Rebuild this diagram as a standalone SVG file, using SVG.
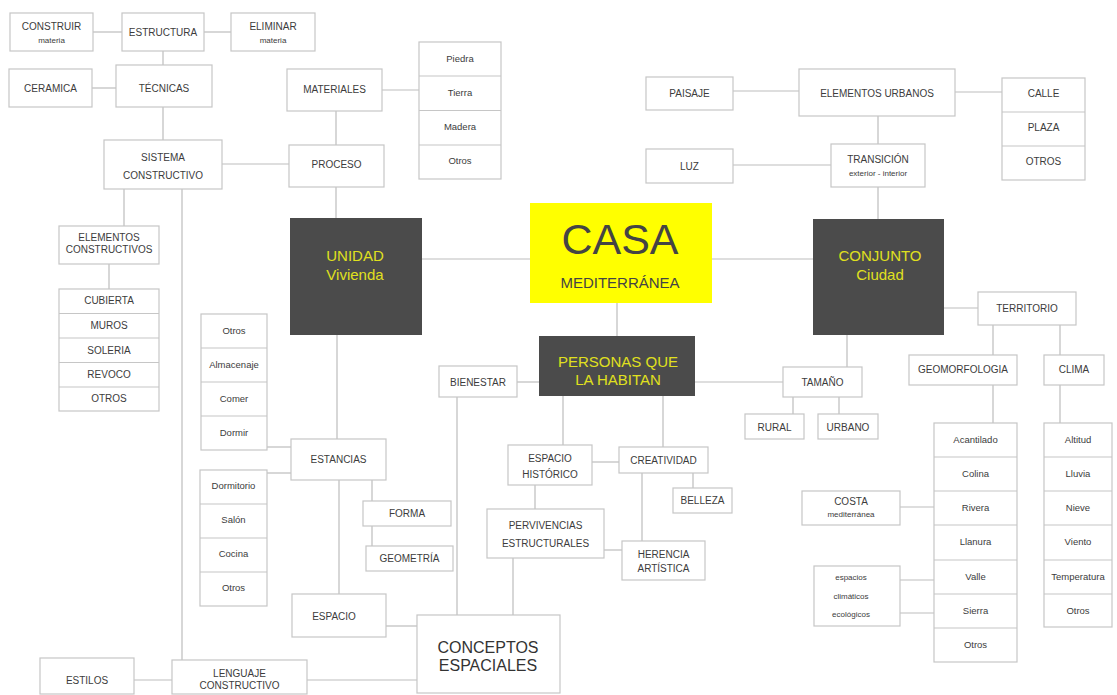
<svg xmlns="http://www.w3.org/2000/svg" width="1117" height="695" viewBox="0 0 1117 695">
  <style>
    .box { fill: #ffffff; stroke: #c6c6c6; stroke-width: 1.2; }
    .sep { stroke: #c6c6c6; stroke-width: 1.2; }
    .dark { fill: #4b4b4b; }
    .casa { fill: #ffff00; }
    .t { font-family: "Liberation Sans", Arial, sans-serif; font-size: 10px; fill: #3c3c3c; text-anchor: middle; dominant-baseline: central; }
    .s { font-size: 8px; }
    .m { font-size: 9.5px; }
    .y { font-size: 15px; fill: #e0e01e; }
    .big { font-size: 16px; fill: #333333; }
    #connectors line { stroke: #bdbdbd; stroke-width: 1.2; }
  </style>

  <rect width="1117" height="695" fill="#ffffff"/>

  <!-- connectors -->
  <g id="connectors">
    <line x1="93" y1="32" x2="122" y2="32"/>
    <line x1="204" y1="32" x2="231" y2="32"/>
    <line x1="163" y1="51" x2="163" y2="65"/>
    <line x1="92" y1="88" x2="116" y2="88"/>
    <line x1="163" y1="107" x2="163" y2="140"/>
    <line x1="222" y1="164" x2="289" y2="164"/>
    <line x1="124" y1="189" x2="124" y2="226"/>
    <line x1="182" y1="189" x2="182" y2="660"/>
    <line x1="109" y1="264" x2="109" y2="289"/>
    <line x1="382" y1="90" x2="419" y2="90"/>
    <line x1="336" y1="111" x2="336" y2="145"/>
    <line x1="336" y1="187" x2="336" y2="218"/>
    <line x1="422" y1="259" x2="530" y2="259"/>
    <line x1="337" y1="335" x2="337" y2="439"/>
    <line x1="267" y1="447" x2="291" y2="447"/>
    <line x1="267" y1="473" x2="291" y2="473"/>
    <line x1="339" y1="480" x2="339" y2="594"/>
    <line x1="372" y1="480" x2="372" y2="501"/>
    <line x1="372" y1="526" x2="372" y2="546"/>
    <line x1="386" y1="626" x2="417" y2="626"/>
    <line x1="134" y1="680" x2="172" y2="680"/>
    <line x1="307" y1="680" x2="417" y2="680"/>
    <line x1="517" y1="382" x2="539" y2="382"/>
    <line x1="457" y1="397" x2="457" y2="615"/>
    <line x1="617" y1="303" x2="617" y2="336"/>
    <line x1="712" y1="259" x2="813" y2="259"/>
    <line x1="563" y1="396" x2="563" y2="445"/>
    <line x1="663" y1="396" x2="663" y2="447"/>
    <line x1="592" y1="462" x2="619" y2="462"/>
    <line x1="535" y1="485" x2="535" y2="509"/>
    <line x1="604" y1="550" x2="622" y2="550"/>
    <line x1="513" y1="558" x2="513" y2="615"/>
    <line x1="642" y1="473" x2="642" y2="541"/>
    <line x1="693" y1="473" x2="693" y2="488"/>
    <line x1="695" y1="382" x2="783" y2="382"/>
    <line x1="847" y1="335" x2="847" y2="367"/>
    <line x1="793" y1="397" x2="793" y2="414"/>
    <line x1="839" y1="397" x2="839" y2="414"/>
    <line x1="733" y1="91" x2="799" y2="91"/>
    <line x1="955" y1="92" x2="1002" y2="92"/>
    <line x1="878" y1="116" x2="878" y2="144"/>
    <line x1="733" y1="165" x2="831" y2="165"/>
    <line x1="878" y1="187" x2="878" y2="219"/>
    <line x1="944" y1="308" x2="978" y2="308"/>
    <line x1="993" y1="325" x2="993" y2="355"/>
    <line x1="1060" y1="325" x2="1060" y2="355"/>
    <line x1="993" y1="385" x2="993" y2="423"/>
    <line x1="1060" y1="385" x2="1060" y2="423"/>
    <line x1="900" y1="507" x2="934" y2="507"/>
    <line x1="900" y1="580" x2="934" y2="580"/>
    <line x1="900" y1="613" x2="934" y2="613"/>
  </g>

  <!-- construction branch -->
  <g id="construir">
    <rect class="box" x="10" y="13" width="83" height="38"/>
    <text class="t" x="51.5" y="26">CONSTRUIR</text>
    <text class="t s" x="51.5" y="40">materia</text>
  </g>
  <g id="estructura">
    <rect class="box" x="122" y="13" width="82" height="38"/>
    <text class="t" x="163" y="32">ESTRUCTURA</text>
  </g>
  <g id="eliminar">
    <rect class="box" x="231" y="13" width="84" height="38"/>
    <text class="t" x="273" y="26">ELIMINAR</text>
    <text class="t s" x="273" y="40">materia</text>
  </g>
  <g id="ceramica">
    <rect class="box" x="9" y="69" width="83" height="38"/>
    <text class="t" x="50.5" y="88">CERAMICA</text>
  </g>
  <g id="tecnicas">
    <rect class="box" x="116" y="65" width="96" height="42"/>
    <text class="t" x="164" y="88">TÉCNICAS</text>
  </g>
  <g id="sistema-constructivo">
    <rect class="box" x="104" y="140" width="118" height="49"/>
    <text class="t" x="163" y="157">SISTEMA</text>
    <text class="t" x="163" y="175">CONSTRUCTIVO</text>
  </g>
  <g id="elementos-constructivos">
    <rect class="box" x="59" y="226" width="100" height="38"/>
    <text class="t" x="109" y="237">ELEMENTOS</text>
    <text class="t" x="109" y="249.5">CONSTRUCTIVOS</text>
  </g>
  <g id="lista-elementos">
    <rect class="box" x="59" y="289" width="100" height="122"/>
    <line class="sep" x1="59" y1="313.5" x2="159" y2="313.5"/>
    <line class="sep" x1="59" y1="338" x2="159" y2="338"/>
    <line class="sep" x1="59" y1="362.5" x2="159" y2="362.5"/>
    <line class="sep" x1="59" y1="387" x2="159" y2="387"/>
    <text class="t" x="109" y="300">CUBIERTA</text>
    <text class="t" x="109" y="325">MUROS</text>
    <text class="t" x="109" y="350">SOLERIA</text>
    <text class="t" x="109" y="374">REVOCO</text>
    <text class="t" x="109" y="398">OTROS</text>
  </g>
  <g id="materiales">
    <rect class="box" x="287" y="69" width="95" height="42"/>
    <text class="t" x="334.5" y="89">MATERIALES</text>
  </g>
  <g id="lista-materiales">
    <rect class="box" x="419" y="42" width="82" height="137"/>
    <line class="sep" x1="419" y1="76" x2="501" y2="76"/>
    <line class="sep" x1="419" y1="110.5" x2="501" y2="110.5"/>
    <line class="sep" x1="419" y1="145" x2="501" y2="145"/>
    <text class="t m" x="460" y="58">Piedra</text>
    <text class="t m" x="460" y="92">Tierra</text>
    <text class="t m" x="460" y="126">Madera</text>
    <text class="t m" x="460" y="160">Otros</text>
  </g>
  <g id="proceso">
    <rect class="box" x="289" y="145" width="95" height="42"/>
    <text class="t" x="336.5" y="164">PROCESO</text>
  </g>

  <!-- main nodes -->
  <g id="unidad">
    <rect class="dark" x="290" y="218" width="132" height="117"/>
    <text class="t y" x="355" y="255">UNIDAD</text>
    <text class="t y" x="355" y="274">Vivienda</text>
  </g>
  <g id="casa">
    <rect class="casa" x="530" y="203" width="182" height="100"/>
    <text class="t" x="620" y="239" style="font-size:43px; fill:#444444">CASA</text>
    <text class="t" x="620" y="282" style="font-size:15px; fill:#444444">MEDITERRÁNEA</text>
  </g>
  <g id="conjunto">
    <rect class="dark" x="813" y="219" width="131" height="116"/>
    <text class="t y" x="880" y="255">CONJUNTO</text>
    <text class="t y" x="880" y="274">Ciudad</text>
  </g>
  <g id="personas">
    <rect class="dark" x="539" y="336" width="156" height="60"/>
    <text class="t y" x="618" y="361">PERSONAS QUE</text>
    <text class="t y" x="618" y="379">LA HABITAN</text>
  </g>

  <!-- dwelling branch -->
  <g id="lista-usos">
    <rect class="box" x="201" y="314" width="66" height="136"/>
    <line class="sep" x1="201" y1="348" x2="267" y2="348"/>
    <line class="sep" x1="201" y1="382" x2="267" y2="382"/>
    <line class="sep" x1="201" y1="416" x2="267" y2="416"/>
    <text class="t m" x="234" y="330">Otros</text>
    <text class="t m" x="234" y="364">Almacenaje</text>
    <text class="t m" x="234" y="398">Comer</text>
    <text class="t m" x="234" y="432">Dormir</text>
  </g>
  <g id="lista-piezas">
    <rect class="box" x="200" y="470" width="67" height="136"/>
    <line class="sep" x1="200" y1="504" x2="267" y2="504"/>
    <line class="sep" x1="200" y1="538" x2="267" y2="538"/>
    <line class="sep" x1="200" y1="572" x2="267" y2="572"/>
    <text class="t m" x="233.5" y="485">Dormitorio</text>
    <text class="t m" x="233.5" y="519">Salón</text>
    <text class="t m" x="233.5" y="553">Cocina</text>
    <text class="t m" x="233.5" y="587">Otros</text>
  </g>
  <g id="estancias">
    <rect class="box" x="291" y="439" width="95" height="41"/>
    <text class="t" x="338.5" y="459">ESTANCIAS</text>
  </g>
  <g id="forma">
    <rect class="box" x="363" y="501" width="88" height="25"/>
    <text class="t" x="407" y="513">FORMA</text>
  </g>
  <g id="geometria">
    <rect class="box" x="366" y="546" width="87" height="25"/>
    <text class="t" x="409.5" y="558">GEOMETRÍA</text>
  </g>
  <g id="espacio">
    <rect class="box" x="292" y="594" width="94" height="43"/>
    <text class="t" x="334" y="616">ESPACIO</text>
  </g>
  <g id="estilos">
    <rect class="box" x="40" y="658" width="94" height="36"/>
    <text class="t" x="87" y="680">ESTILOS</text>
  </g>
  <g id="lenguaje-constructivo">
    <rect class="box" x="172" y="660" width="135" height="34"/>
    <text class="t" x="239.5" y="673">LENGUAJE</text>
    <text class="t" x="239.5" y="685">CONSTRUCTIVO</text>
  </g>
  <g id="conceptos-espaciales">
    <rect class="box" x="417" y="615" width="143" height="78"/>
    <text class="t big" x="488" y="647">CONCEPTOS</text>
    <text class="t big" x="488" y="665">ESPACIALES</text>
  </g>

  <!-- people branch -->
  <g id="bienestar">
    <rect class="box" x="439" y="366" width="78" height="31"/>
    <text class="t" x="478" y="382">BIENESTAR</text>
  </g>
  <g id="espacio-historico">
    <rect class="box" x="508" y="445" width="84" height="40"/>
    <text class="t" x="550" y="458">ESPACIO</text>
    <text class="t" x="550" y="474">HISTÓRICO</text>
  </g>
  <g id="creatividad">
    <rect class="box" x="619" y="447" width="89" height="26"/>
    <text class="t" x="663.5" y="460">CREATIVIDAD</text>
  </g>
  <g id="belleza">
    <rect class="box" x="673" y="488" width="59" height="25"/>
    <text class="t" x="702.5" y="500.5">BELLEZA</text>
  </g>
  <g id="pervivencias">
    <rect class="box" x="487" y="509" width="117" height="49"/>
    <text class="t" x="545.5" y="525">PERVIVENCIAS</text>
    <text class="t" x="545.5" y="543">ESTRUCTURALES</text>
  </g>
  <g id="herencia">
    <rect class="box" x="622" y="541" width="83" height="39"/>
    <text class="t" x="663.5" y="554">HERENCIA</text>
    <text class="t" x="663.5" y="568">ARTÍSTICA</text>
  </g>

  <!-- city branch -->
  <g id="paisaje">
    <rect class="box" x="646" y="77" width="87" height="33"/>
    <text class="t" x="689.5" y="93">PAISAJE</text>
  </g>
  <g id="elementos-urbanos">
    <rect class="box" x="799" y="69" width="156" height="47"/>
    <text class="t" x="877" y="93">ELEMENTOS URBANOS</text>
  </g>
  <g id="lista-urbana">
    <rect class="box" x="1002" y="78" width="83" height="102"/>
    <line class="sep" x1="1002" y1="112" x2="1085" y2="112"/>
    <line class="sep" x1="1002" y1="146" x2="1085" y2="146"/>
    <text class="t" x="1043.5" y="93">CALLE</text>
    <text class="t" x="1043.5" y="127">PLAZA</text>
    <text class="t" x="1043.5" y="161">OTROS</text>
  </g>
  <g id="luz">
    <rect class="box" x="646" y="149" width="87" height="34"/>
    <text class="t" x="689.5" y="166">LUZ</text>
  </g>
  <g id="transicion">
    <rect class="box" x="831" y="144" width="94" height="43"/>
    <text class="t" x="878" y="159">TRANSICIÓN</text>
    <text class="t s" x="878" y="173">exterior - interior</text>
  </g>
  <g id="tamano">
    <rect class="box" x="783" y="367" width="79" height="30"/>
    <text class="t" x="822.5" y="382">TAMAÑO</text>
  </g>
  <g id="rural">
    <rect class="box" x="745" y="414" width="59" height="25"/>
    <text class="t" x="774.5" y="427">RURAL</text>
  </g>
  <g id="urbano">
    <rect class="box" x="818" y="414" width="60" height="25"/>
    <text class="t" x="848" y="427">URBANO</text>
  </g>
  <g id="territorio">
    <rect class="box" x="978" y="292" width="98" height="33"/>
    <text class="t" x="1027" y="308">TERRITORIO</text>
  </g>
  <g id="geomorfologia">
    <rect class="box" x="909" y="355" width="108" height="30"/>
    <text class="t" x="963" y="369">GEOMORFOLOGIA</text>
  </g>
  <g id="clima">
    <rect class="box" x="1044" y="355" width="60" height="30"/>
    <text class="t" x="1074" y="369">CLIMA</text>
  </g>
  <g id="lista-relieve">
    <rect class="box" x="934" y="423" width="83" height="239"/>
    <line class="sep" x1="934" y1="457" x2="1017" y2="457"/>
    <line class="sep" x1="934" y1="491" x2="1017" y2="491"/>
    <line class="sep" x1="934" y1="525" x2="1017" y2="525"/>
    <line class="sep" x1="934" y1="560" x2="1017" y2="560"/>
    <line class="sep" x1="934" y1="594" x2="1017" y2="594"/>
    <line class="sep" x1="934" y1="628" x2="1017" y2="628"/>
    <text class="t m" x="975.5" y="439">Acantilado</text>
    <text class="t m" x="975.5" y="473">Colina</text>
    <text class="t m" x="975.5" y="507">Rivera</text>
    <text class="t m" x="975.5" y="541">Llanura</text>
    <text class="t m" x="975.5" y="576">Valle</text>
    <text class="t m" x="975.5" y="610">Sierra</text>
    <text class="t m" x="975.5" y="644">Otros</text>
  </g>
  <g id="lista-clima">
    <rect class="box" x="1044" y="423" width="68" height="204"/>
    <line class="sep" x1="1044" y1="457" x2="1112" y2="457"/>
    <line class="sep" x1="1044" y1="491" x2="1112" y2="491"/>
    <line class="sep" x1="1044" y1="525" x2="1112" y2="525"/>
    <line class="sep" x1="1044" y1="560" x2="1112" y2="560"/>
    <line class="sep" x1="1044" y1="594" x2="1112" y2="594"/>
    <text class="t m" x="1078" y="439">Altitud</text>
    <text class="t m" x="1078" y="473">Lluvia</text>
    <text class="t m" x="1078" y="507">Nieve</text>
    <text class="t m" x="1078" y="541">Viento</text>
    <text class="t m" x="1078" y="576">Temperatura</text>
    <text class="t m" x="1078" y="610">Otros</text>
  </g>
  <g id="costa">
    <rect class="box" x="802" y="491" width="98" height="34"/>
    <text class="t" x="851" y="501">COSTA</text>
    <text class="t s" x="851" y="514">mediterránea</text>
  </g>
  <g id="espacios-climaticos">
    <rect class="box" x="814" y="566" width="86" height="60"/>
    <text class="t s" x="851" y="577">espacios</text>
    <text class="t s" x="851" y="596">climáticos</text>
    <text class="t s" x="851" y="614">ecológicos</text>
  </g>
</svg>
